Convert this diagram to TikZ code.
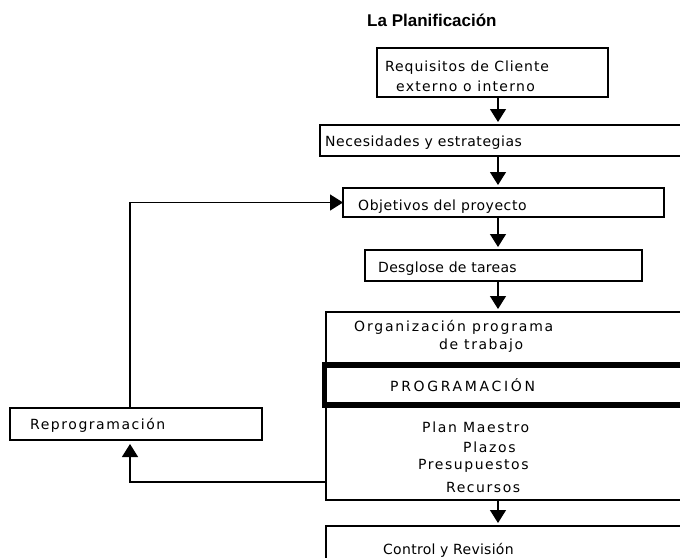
\documentclass[tikz,border=0pt]{standalone}
\usepackage{fontspec}
\setmainfont{DejaVu Sans}
\newfontfamily\titlefont{Liberation Sans}
\usetikzlibrary{arrows.meta}
\begin{document}
\begin{tikzpicture}[x=1pt,y=-1pt,
  box/.style={draw, line width=1.3pt, inner sep=0pt, outer sep=0pt, anchor=north west},
  lbl/.style={anchor=west, inner sep=0pt, font=\fontsize{14}{16}\selectfont\addfontfeature{LetterSpace=#1}},
  lbl/.default=4,
  flow/.style={line width=1.3pt, -{Triangle[width=16pt,length=13pt]}}]
\clip (0,0) rectangle (680,557);
\fill[white] (0,0) rectangle (680,557);

% title
\node[font=\titlefont\bfseries\fontsize{17}{19}\selectfont, anchor=west, inner sep=0pt] (title) at (367,20) {La Planificación};

% main chain of boxes
\node[box, minimum width=231, minimum height=49] (req) at (377,48) {};
\node[box, minimum width=370, minimum height=31] (nec) at (320,125) {};
\node[box, minimum width=321, minimum height=29] (obj) at (343,188) {};
\node[box, minimum width=277, minimum height=31] (des) at (365,250) {};
\node[box, minimum width=364, minimum height=188] (org) at (326,312) {};
\node[box, line width=5.5pt, minimum width=370, minimum height=40] (prog) at (324.5,365) {};
\node[box, minimum width=364, minimum height=50] (ctl) at (326,526) {};
\node[box, minimum width=252, minimum height=32] (rep) at (10,408) {};

% texts
\node[lbl=6.5] (treq1) at (385,68) {Requisitos de Cliente};
\node[lbl=9] (treq2) at (396,86) {externo o interno};
\node[lbl=4] (tnec) at (325,143) {Necesidades y estrategias};
\node[lbl=4] (tobj) at (358,207) {Objetivos del proyecto};
\node[lbl=2] (tdes) at (378,269) {Desglose de tareas};
\node[lbl=13] (torg1) at (354,327) {Organización programa};
\node[lbl=11] (torg2) at (439,346) {de trabajo};
\node[lbl=19] (tprog) at (390,385) {PROGRAMACIÓN};
\node[lbl=12] (tpm) at (422,427) {Plan Maestro};
\node[lbl=12] (tpl) at (463,447) {Plazos};
\node[lbl=11] (tpr) at (418,466) {Presupuestos};
\node[lbl=11] (tre) at (446,487) {Recursos};
\node[lbl=2] (tctl) at (383,550) {Control y Revisión};
\node[lbl=11] (trep) at (30,425) {Reprogramación};

% connectors
\coordinate (axis) at (498,0);
\coordinate (fb) at (130,482);
\draw[flow, shorten >=3pt] (req.south -| axis) -- (nec.north -| axis);
\draw[flow, shorten >=3pt] (nec.south -| axis) -- (obj.north -| axis);
\draw[flow, shorten >=3pt] (obj.south -| axis) -- (des.north -| axis);
\draw[flow, shorten >=3pt] (des.south -| axis) -- (org.north -| axis);
\draw[flow, shorten >=3pt] (org.south -| axis) -- (ctl.north -| axis);
\draw[flow, shorten >=4pt] (org.west |- fb) -- (fb) -- (rep.south -| fb);
\draw[flow] (rep.north -| fb) |- (obj.west);
\end{tikzpicture}
\end{document}
